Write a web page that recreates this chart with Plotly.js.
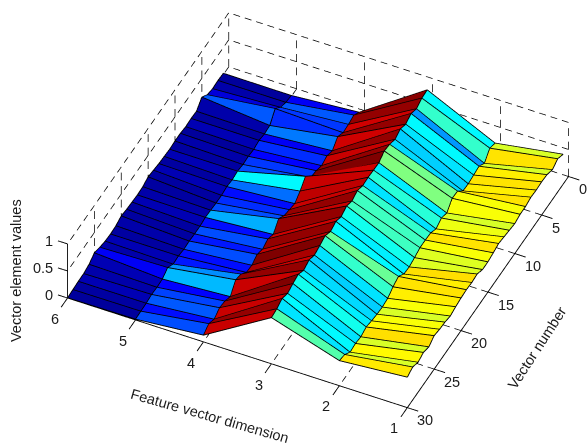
<!DOCTYPE html>
<html><head><meta charset="utf-8">
<script src="https://cdn.plot.ly/plotly-3.0.1.min.js"></script>
<style>html,body{margin:0;padding:0;background:#fff}</style></head>
<body><div id="c" style="width:587px;height:446px"></div>
<script>
const dims = [1,2,3,4,5,6];
const vectors = [1,2,3,4,5,6,7,8,9,10,11,12,13,14,15,16,17,18,19,20,21,22,23,24,25,26,27,28,29,30];
const dim1 = [.55,.61,.55,.60,.61,.60,.61,.58,.58,.55,.57,.59,.61,.58,.555,.555,.615,.60,.61,.60,.58,.55,.58,.59,.615,.55,.59,.55,.605,.56];
const dim2 = [.35,.40,.26,.35,.33,.31,.32,.46,.47,.34,.39,.33,.40,.41,.41,.37,.34,.35,.45,.40,.33,.31,.32,.34,.37,.33,.35,.33,.43,.46];
const dim3 = [.93,.92,.865,.92,.865,.92,.87,.92,.94,.865,.87,.88,.87,.92,.87,.92,.865,.92,.875,.94,.90,.865,.92,.87,.94,.91,.87,.92,.87,.85];
const dim4 = [.11,.20,.17,.16,.23,.11,.16,.12,.17,.19,.35,.22,.13,.16,.19,.28,.13,.19,.14,.19,.13,.14,.25,.29,.12,.18,.20,.13,.19,.12];
const dim5 = [.015,.03,.08,.20,.03,.015,.04,.015,.03,.02,.04,.02,.04,.02,.02,.03,.04,.02,.02,.03,.02,.04,.03,.11,.04,.03,.04,.02,.015,.01];
const dim6 = [.02,.03,.02,.05,.15,.03,.04,.03,.05,.05,.04,.05,.06,.08,.10,.06,.05,.06,.07,.09,.05,.04,.05,.08,.12,.05,.02,.02,.01,.00];
const dimTicks = [1,2,3,4,5,6];
const vecTicks = [0,5,10,15,20,25,30];
const zTicks = [0,0.5,1];
const zTickText = ['0','0.5','1'];
const jet = [[0,'rgb(0,0,143)'],[.125,'rgb(0,0,255)'],[.375,'rgb(0,255,255)'],[.625,'rgb(255,255,0)'],[.875,'rgb(255,0,0)'],[1,'rgb(128,0,0)']];
const columns = [dim1,dim2,dim3,dim4,dim5,dim6];

const X=[],Y=[],Z=[],I=[],J=[],K=[],C=[];
const id=(d,v)=>d*vectors.length+v;
dims.forEach((d,di)=>vectors.forEach((v,vi)=>{X.push(d);Y.push(v);Z.push(columns[di][vi]);}));
for(let di=0;di<dims.length-1;di++)for(let vi=0;vi<vectors.length-1;vi++){
  const a=id(di,vi),b=id(di+1,vi),c=id(di+1,vi+1),e=id(di,vi+1),col=columns[di][vi];
  I.push(a,a);J.push(b,c);K.push(c,e);C.push(col,col);
}
const surf={type:'mesh3d',x:X,y:Y,z:Z,i:I,j:J,k:K,intensity:C,intensitymode:'cell',colorscale:jet,cmin:0,cmax:.94,showscale:false,flatshading:true,
  lighting:{ambient:1,diffuse:0,specular:0,roughness:1,fresnel:0},hoverinfo:'skip'};

function seg(list){const o={x:[],y:[],z:[]};list.forEach(s=>{s.forEach(p=>{o.x.push(p[0]);o.y.push(p[1]);o.z.push(p[2]);});o.x.push(null);o.y.push(null);o.z.push(null);});return o;}
const lift=.004;
const edgeList=[];
vectors.forEach((v,vi)=>edgeList.push(dims.map((d,di)=>[d,v,columns[di][vi]+lift])));
dims.forEach((d,di)=>edgeList.push(vectors.map((v,vi)=>[d,v,columns[di][vi]+lift])));
const edges=Object.assign({type:'scatter3d',mode:'lines',line:{color:'#000',width:1.8},hoverinfo:'skip'},seg(edgeList));

const zTop=zTicks[zTicks.length-1],dMin=dimTicks[0],dMax=dimTicks[5],vMin=vecTicks[0],vMax=vecTicks[6];
function dashes(a,b,n){const r=[];for(let i=0;i<n;i++){const f0=i/n,f1=(i+.58)/n;
  r.push([[0,1,2].map(k=>a[k]+(b[k]-a[k])*f0),[0,1,2].map(k=>a[k]+(b[k]-a[k])*f1)]);}return r;}
const gridList=[];
dimTicks.forEach(d=>{gridList.push(...dashes([d,vMin,0],[d,vMax,0],24));gridList.push(...dashes([d,vMin,0],[d,vMin,zTop],4));});
vecTicks.forEach(v=>{gridList.push(...dashes([dMin,v,0],[dMax,v,0],30));gridList.push(...dashes([dMax,v,0],[dMax,v,zTop],4));});
zTicks.forEach(z=>{gridList.push(...dashes([dMin,vMin,z],[dMax,vMin,z],30));gridList.push(...dashes([dMax,vMin,z],[dMax,vMax,z],24));});
const grid=Object.assign({type:'scatter3d',mode:'lines',line:{color:'#000',width:1.5},hoverinfo:'skip'},seg(gridList));

const axisList=[[[dMin,vMax,0],[dMax,vMax,0]],[[dMin,vMin,0],[dMin,vMax,0]],[[dMax,vMax,0],[dMax,vMax,zTop]]];
dimTicks.forEach(d=>axisList.push([[d,vMax,0],[d,vMax+1.2,0]]));
vecTicks.forEach(v=>axisList.push([[dMin,v,0],[dMin-.16,v,0]]));
zTicks.forEach(z=>axisList.push([[dMax,vMax,z],[dMax+.14,vMax,z]]));
const axes=Object.assign({type:'scatter3d',mode:'lines',line:{color:'#000',width:1.8},hoverinfo:'skip'},seg(axisList));

const tickFont={family:'Liberation Sans, Arial, sans-serif',size:14.5,color:'#1a1a1a'};
const sceneAnn=[];
dimTicks.forEach(d=>sceneAnn.push({x:d,y:vMax,z:0,text:String(d),showarrow:false,xshift:-13,yshift:-21,font:tickFont}));
vecTicks.forEach(v=>sceneAnn.push({x:dMin,y:v,z:0,text:String(v),showarrow:false,xanchor:'left',xshift:8,yshift:-13,font:tickFont}));
zTicks.forEach((z,i)=>sceneAnn.push({x:dMax,y:vMax,z:z,text:zTickText[i],showarrow:false,xanchor:'right',xshift:-13,yshift:3,font:tickFont}));

const W=587,H=446;
const titleFont={family:'Liberation Sans, Arial, sans-serif',size:14.5,color:'#1a1a1a'};
const titles=[
 {text:'Feature vector dimension',x:210/W,y:1-416/H,textangle:16},
 {text:'Vector number',x:537/W,y:1-348/H,textangle:-57},
 {text:'Vector element values',x:16/W,y:1-271/H,textangle:-90}
].map(t=>Object.assign(t,{xref:'paper',yref:'paper',showarrow:false,xanchor:'center',yanchor:'middle',font:titleFont}));

const hidden=r=>({visible:false,range:r,autorange:false,showgrid:false,zeroline:false,showspikes:false});
const L=1.5, S=1.741;
const layout={width:W,height:H,margin:{l:0,r:0,t:0,b:0},paper_bgcolor:'#fff',showlegend:false,annotations:titles,
 scene:{domain:{x:[.0702,1],y:[.032,1]},aspectmode:'manual',aspectratio:{x:1.08*S,y:1.05*S,z:.204*S},
  xaxis:hidden([.8,6.2]),yaxis:hidden([0,31.5]),zaxis:hidden([-.02,1.02]),bgcolor:'#fff',annotations:sceneAnn,
  camera:{projection:{type:'orthographic'},up:{x:0,y:0,z:1},center:{x:0,y:0,z:0},eye:{x:-.314*L,y:.662*L,z:.680*L}}}};
Plotly.newPlot('c',[surf,grid,edges,axes],layout,{displayModeBar:false});
</script></body></html>
